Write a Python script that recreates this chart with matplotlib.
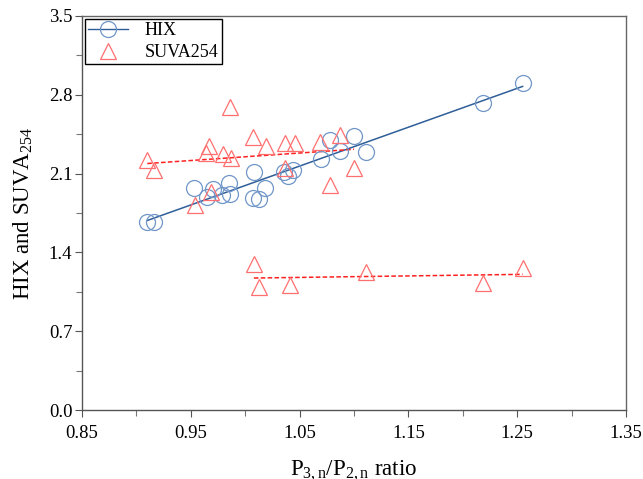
import numpy as np
import matplotlib
matplotlib.use("Agg")
import matplotlib.pyplot as plt
from matplotlib.ticker import MultipleLocator, FormatStrFormatter

# P3,n/P2,n ratio and HIX for each sample
hix_ratio = [0.910, 0.916, 0.953, 0.965, 0.970, 0.979, 0.986, 0.985, 1.008, 1.018,
             1.007, 1.013, 1.036, 1.039, 1.044, 1.070, 1.078, 1.087, 1.100, 1.111,
             1.219, 1.255]
hix_value = [1.670, 1.670, 1.972, 1.892, 1.963, 1.909, 1.918, 2.016, 2.114, 1.972,
             1.883, 1.874, 2.114, 2.078, 2.131, 2.229, 2.398, 2.300, 2.433, 2.291,
             2.726, 2.904]

# SUVA254, upper group
suva_hi_ratio = [0.910, 0.916, 0.954, 0.964, 0.967, 0.969, 0.980, 0.986, 0.987, 1.007,
                 1.019, 1.037, 1.037, 1.046, 1.069, 1.078, 1.087, 1.100]
suva_hi_value = [2.220, 2.131, 1.821, 2.282, 2.345, 1.936, 2.274, 2.691, 2.238, 2.425,
                 2.345, 2.371, 2.149, 2.371, 2.380, 1.998, 2.442, 2.149]

# SUVA254, lower group
suva_lo_ratio = [1.008, 1.013, 1.041, 1.111, 1.219, 1.255]
suva_lo_value = [1.297, 1.092, 1.110, 1.226, 1.128, 1.261]

x_ticks = [0.85, 0.95, 1.05, 1.15, 1.25, 1.35]
y_ticks = [0.0, 0.7, 1.4, 2.1, 2.8, 3.5]

plt.rcParams["font.family"] = ["Liberation Serif", "DejaVu Serif"]
plt.rcParams["mathtext.fontset"] = "custom"
plt.rcParams["mathtext.rm"] = "Liberation Serif"
plt.rcParams["mathtext.it"] = "Liberation Serif"

fig = plt.figure(figsize=(6.43, 4.79), dpi=100)
ax = fig.add_axes([0.1275, 0.144, 0.846, 0.8226])

blue_edge = "#7096c8"
blue_line = "#2f5e99"
red_edge = "#ff6f6f"
red_line = "#ff2020"


def fit_line(xs, ys):
    xs = np.asarray(xs)
    k, b = np.polyfit(xs, ys, 1)
    xx = np.array([xs.min(), xs.max()])
    return xx, k * xx + b


# regression lines
xx, yy = fit_line(hix_ratio, hix_value)
ax.plot(xx, yy, color=blue_line, lw=1.1, zorder=2)
xx, yy = fit_line(suva_hi_ratio, suva_hi_value)
ax.plot(xx, yy, color=red_line, lw=1.1, ls=(0, (3, 1.5)), zorder=2)
xx, yy = fit_line(suva_lo_ratio, suva_lo_value)
ax.plot(xx, yy, color=red_line, lw=1.1, ls=(0, (3, 1.5)), zorder=2)

# scatter markers
ax.plot(hix_ratio, hix_value, ls="none", marker="o", ms=11.5, mfc="none",
        mec=blue_edge, mew=0.9, zorder=3)
ax.plot(suva_hi_ratio + suva_lo_ratio, suva_hi_value + suva_lo_value, ls="none",
        marker="^", ms=11.5, mfc="none", mec=red_edge, mew=0.9, zorder=3)

# legend handles
h_hix, = ax.plot([], [], color=blue_line, lw=1.0, marker="o", ms=11.5, mfc="none",
                 mec=blue_edge, mew=0.9, label="HIX")
h_suva, = ax.plot([], [], ls="none", marker="^", ms=11.5, mfc="none",
                  mec=red_edge, mew=0.9, label="SUVA254")
leg = ax.legend(handles=[h_hix, h_suva], loc="upper left", fontsize=13,
                frameon=True, fancybox=False, edgecolor="black", framealpha=1,
                borderaxespad=0.15, handlelength=2.2, handletextpad=0.9,
                borderpad=0.2, labelspacing=0.25)
leg.get_frame().set_linewidth(1.0)

ax.set_xlim(0.85, 1.35)
ax.set_ylim(0.0, 3.5)
ax.set_xticks(x_ticks)
ax.set_yticks(y_ticks)
ax.xaxis.set_major_formatter(FormatStrFormatter("%.2f"))
ax.yaxis.set_major_formatter(FormatStrFormatter("%.1f"))
ax.xaxis.set_minor_locator(MultipleLocator(0.05))
ax.yaxis.set_minor_locator(MultipleLocator(0.35))
ax.tick_params(axis="both", which="major", direction="out", length=5, width=0.8,
               colors="#555555", labelcolor="black", labelsize=13.5)
ax.tick_params(axis="x", which="major", pad=6)
ax.tick_params(axis="y", which="major", pad=2)
ax.tick_params(axis="both", which="minor", direction="out", length=4, width=0.8,
               colors="#777777")
ax.tick_params(top=False, right=False, which="both")

for side in ["left", "bottom"]:
    ax.spines[side].set_color("#555555")
    ax.spines[side].set_linewidth(1.0)
for side in ["top", "right"]:
    ax.spines[side].set_color("#666666")
    ax.spines[side].set_linewidth(1.0)

ax.set_xlabel(r"P$_{3,\mathrm{n}}$/P$_{2,\mathrm{n}}$ ratio", fontsize=16.5, labelpad=12)
ax.set_ylabel(r"HIX and SUVA$_{254}$", fontsize=16.5, labelpad=10)

fig.savefig("out.png", dpi=100)
